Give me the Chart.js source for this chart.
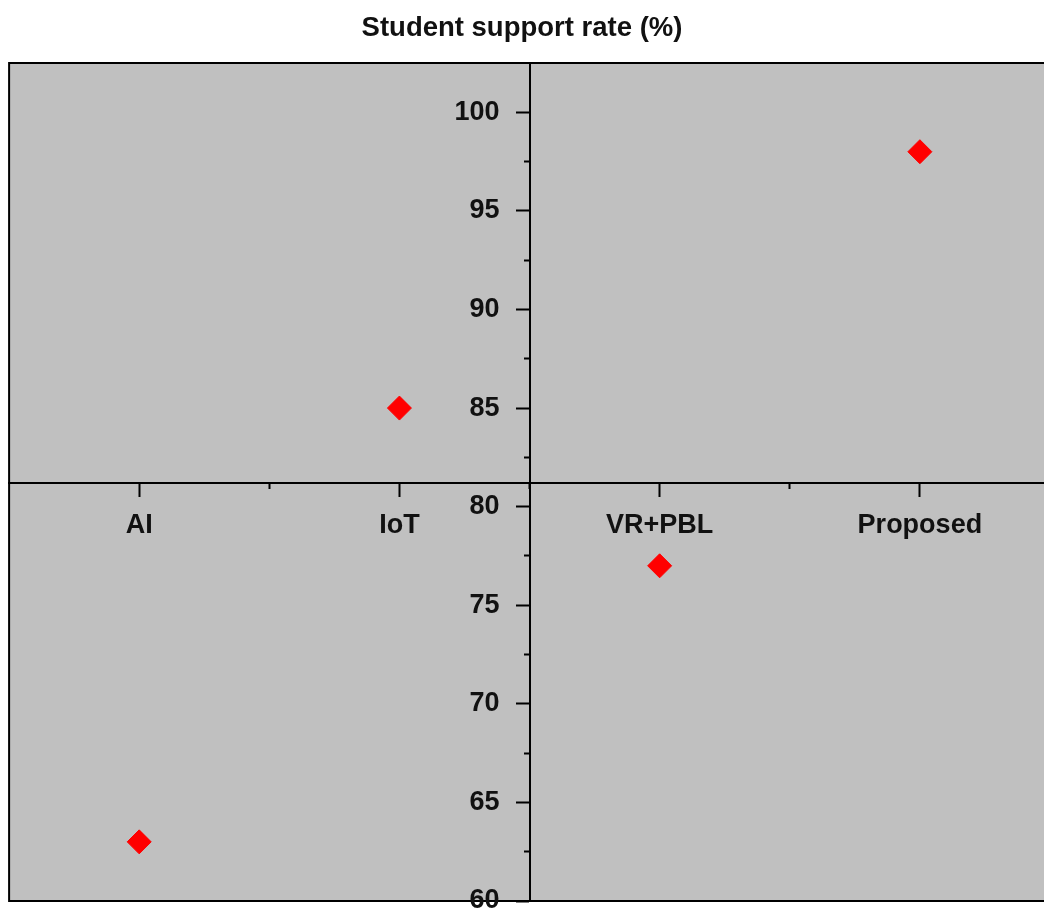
<!DOCTYPE html>
<html>
<head>
<meta charset="utf-8">
<script src="https://cdn.jsdelivr.net/npm/chart.js@4.4.1/dist/chart.umd.min.js"></script>
<style>
  html, body { margin: 0; padding: 0; background: #fff; }
  #wrap { width: 1044px; height: 909px; overflow: hidden; position: relative; }
</style>
</head>
<body>
<div id="wrap"><canvas id="chart" width="1044" height="940"></canvas></div>
<script>
// data
const categories = ['AI', 'IoT', 'VR+PBL', 'Proposed'];
const supportRate = [63, 85, 77, 98];
const yMajorTicks = [60, 65, 70, 75, 80, 85, 90, 95, 100];
const yMinorTicks = [62.5, 67.5, 72.5, 77.5, 82.5, 87.5, 92.5, 97.5];
const xMinorTicks = [0.5, 1.5, 2.5];

// the plot box runs from -0.5 to 3.5 but the picture is cropped on the right
const boxMin = -0.5, boxMax = 3.5;
const xMin = -0.535, xMax = 3.477;
const yMin = 60, yMax = 102.5;
const yAxisAt = 1.5;

const FONT = 'Arial, "Liberation Sans", sans-serif';

const points = categories.map((c, i) => ({ x: i, y: supportRate[i] }));

// grey plot box with a black frame; everything left of the box is clipped
const plotFrame = {
  id: 'plotFrame',
  beforeDraw(chart) {
    const { ctx, chartArea: a, scales } = chart;
    const left = scales.x.getPixelForValue(boxMin);
    const right = scales.x.getPixelForValue(boxMax);
    ctx.save();
    ctx.beginPath();
    ctx.rect(left - 1, 0, chart.width, chart.height);
    ctx.clip();
    ctx.fillStyle = '#c0c0c0';
    ctx.fillRect(left, a.top, right - left, a.bottom - a.top);
    ctx.strokeStyle = '#000';
    ctx.lineWidth = 2;
    ctx.strokeRect(left, a.top, right - left, a.bottom - a.top);
  },
  afterDraw(chart) {
    chart.ctx.restore();
  }
};

const tickGrid = (len) => ({
  display: true,
  drawOnChartArea: false,
  drawTicks: true,
  tickLength: len,
  tickWidth: 2,
  tickColor: '#000'
});

new Chart(document.getElementById('chart'), {
  type: 'scatter',
  data: {
    datasets: [{
      data: points,
      pointStyle: 'rectRot',
      pointRadius: 12,
      pointHoverRadius: 12,
      backgroundColor: '#ff0000',
      borderColor: '#ff0000',
      borderWidth: 1
    }]
  },
  options: {
    responsive: false,
    animation: false,
    layout: { autoPadding: false, padding: { left: 0, right: 0, top: 0, bottom: 39 } },
    plugins: {
      legend: { display: false },
      tooltip: { enabled: false },
      title: {
        display: true,
        text: 'Student support rate (%)',
        color: '#111',
        font: { family: FONT, size: 27.5, weight: 'bold' },
        padding: { top: 12, bottom: 18 }
      }
    },
    scales: {
      x: {
        type: 'linear',
        min: xMin,
        max: xMax,
        position: 'center',
        afterBuildTicks: s => { s.ticks = categories.map((c, i) => ({ value: i })); },
        ticks: {
          autoSkip: false,
          maxRotation: 0,
          padding: 14,
          color: '#111',
          font: { family: FONT, size: 27, weight: 'bold' },
          callback: v => categories[v]
        },
        grid: tickGrid(13),
        border: { display: true, color: '#000', width: 2 }
      },
      x2: {
        type: 'linear',
        axis: 'x',
        min: xMin,
        max: xMax,
        position: 'center',
        afterBuildTicks: s => { s.ticks = xMinorTicks.map(v => ({ value: v })); },
        ticks: { display: false },
        grid: tickGrid(6),
        border: { display: false }
      },
      y: {
        type: 'linear',
        min: yMin,
        max: yMax,
        position: { x: yAxisAt },
        afterBuildTicks: s => { s.ticks = yMajorTicks.map(v => ({ value: v })); },
        ticks: {
          autoSkip: false,
          color: '#111',
          font: { family: FONT, size: 27, weight: 'bold' },
          // labels of an axis placed at a value sit on the line; spaces push them left of the ticks
          callback: v => v + '    '
        },
        grid: tickGrid(13),
        border: { display: true, color: '#000', width: 2 }
      },
      y2: {
        type: 'linear',
        axis: 'y',
        min: yMin,
        max: yMax,
        position: { x: yAxisAt },
        afterBuildTicks: s => { s.ticks = yMinorTicks.map(v => ({ value: v })); },
        ticks: { display: false },
        grid: tickGrid(6),
        border: { display: false }
      }
    }
  },
  plugins: [plotFrame]
});
</script>
</body>
</html>
